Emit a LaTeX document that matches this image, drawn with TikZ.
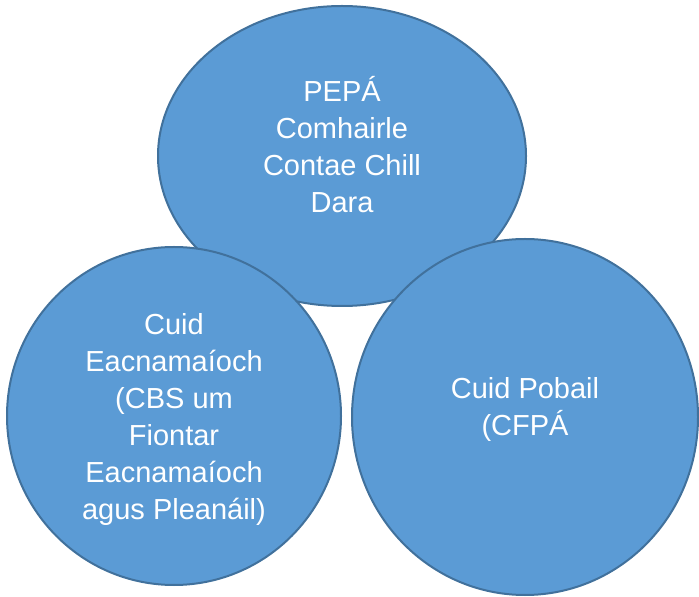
\documentclass[tikz,border=0pt]{standalone}
\usepackage{fontspec}
\setmainfont{Liberation Sans}
\usepackage{xcolor}
\usepackage{tikz}
\usetikzlibrary{shapes.geometric}

\definecolor{bubblefill}{HTML}{5B9BD5}
\definecolor{bubbleline}{HTML}{41719C}

\tikzset{
    bubble/.style={ellipse, draw=bubbleline, fill=bubblefill, line width=1.5pt, inner sep=0pt},
    bubbletext/.style={text=white, align=center, font=\fontsize{21.75pt}{27.75pt}\selectfont}
}

\begin{document}
\begin{tikzpicture}[x=0.75pt, y=0.75pt]
        \useasboundingbox (0,0) rectangle (699,596);

        % three parts
        \node[bubble, minimum width=368pt*0.75, minimum height=300pt*0.75] (pepa) at (342,440) {};
        \node[bubble, minimum width=334pt*0.75, minimum height=338pt*0.75] (eacn) at (174,180) {};
        \node[bubble, minimum width=346pt*0.75, minimum height=356pt*0.75] (pobal) at (525,179) {};

        \node[bubbletext] (pepa-txt) at ([yshift=8.5pt]pepa.center) {PEPÁ\\Comhairle\\Contae Chill\\Dara};
        \node[bubbletext] (eacn-txt) at ([yshift=-2.5pt]eacn.center) {Cuid\\Eacnamaíoch\\(CBS um\\Fiontar\\Eacnamaíoch\\agus Pleanáil)};
        \node[bubbletext] (pobal-txt) at ([yshift=6pt]pobal.center) {Cuid Pobail\\(CFPÁ};
    \end{tikzpicture}
\end{document}
